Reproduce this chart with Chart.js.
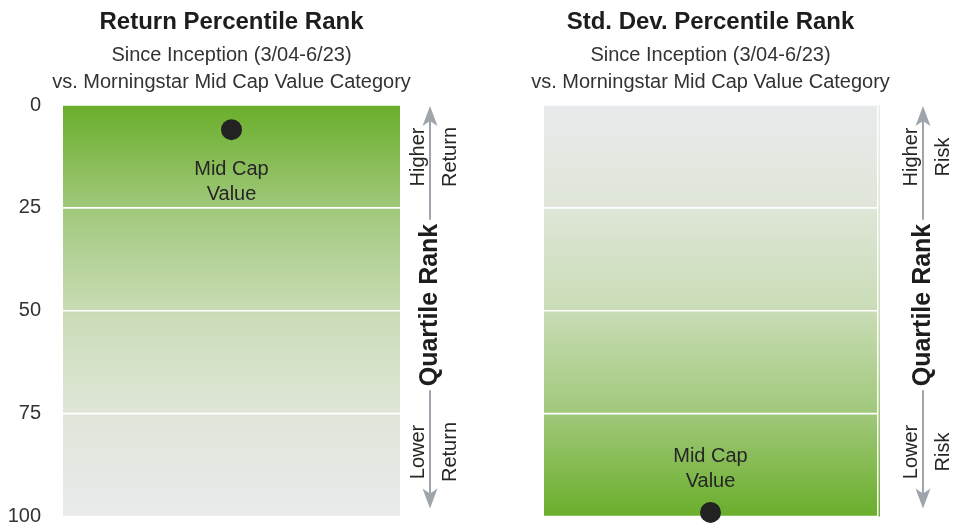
<!DOCTYPE html>
<html>
<head>
<meta charset="utf-8">
<script src="https://cdn.jsdelivr.net/npm/chart.js@4.4.1/dist/chart.umd.min.js"></script>
<style>
    html, body { margin: 0; padding: 0; background: #fff; }
    .panel { position: absolute; top: 0; height: 527px; }
    #leftPanel { left: 0; width: 480px; }
    #rightPanel { left: 480px; width: 475px; }
</style>
</head>
<body>
<div class="panel" id="leftPanel"><canvas id="returnChart"></canvas></div>
<div class="panel" id="rightPanel"><canvas id="stdDevChart"></canvas></div>
<script>
const categories = ['Mid Cap Value'];
const quartileBands = [[0, 25], [25, 50], [50, 75], [75, 100]];
const rankTicks = [0, 25, 50, 75, 100];
const returnRank = [6];
const stdDevRank = [99];
const pointLabel = ['Mid Cap', 'Value'];

const FONT = '"Liberation Sans", Arial, sans-serif';
Chart.defaults.font.family = FONT;

// green at the top fading to gray at the bottom
const greenToGray = [[0, '#6aae2b'], [0.25, '#a0c87a'], [0.5, '#c9dcb6'], [0.75, '#dfe6d8'], [1, '#e9eaec']];

const makeGradient = (chart, flip) => {
    const { ctx, chartArea } = chart;
    const g = ctx.createLinearGradient(0, chartArea.top, 0, chartArea.bottom);
    greenToGray.forEach(([p, col]) => g.addColorStop(flip ? 1 - p : p, col));
    return g;
};

const drawHead = (c, x, y, dir) => {
    c.beginPath();
    c.moveTo(x, y);
    c.lineTo(x - 7.5, y + dir * 20);
    c.lineTo(x, y + dir * 15);
    c.lineTo(x + 7.5, y + dir * 20);
    c.closePath();
    c.fill();
};

const rotatedText = (c, str, x, y, font, color) => {
    c.save();
    c.translate(x, y);
    c.rotate(-Math.PI / 2);
    c.font = font;
    c.fillStyle = color;
    c.textAlign = 'center';
    c.textBaseline = 'middle';
    c.fillText(str, 0, 0);
    c.restore();
};

const panelPlugin = {
    id: 'panel',
    afterDatasetsDraw(chart) {
        const opts = chart.options.plugins.panel;
        const area = chart.chartArea;
        const c = chart.ctx;
        const cx = (area.left + area.right) / 2;
        const regular = '20px ' + FONT;

        c.save();
        c.textAlign = 'center';
        c.textBaseline = 'middle';
        c.fillStyle = '#1d1d1d';
        c.font = 'bold 24px ' + FONT;
        c.fillText(opts.title, cx, 22);
        c.fillStyle = '#333';
        c.font = regular;
        c.fillText('Since Inception (3/04-6/23)', cx, 55);
        c.fillText('vs. Morningstar Mid Cap Value Category', cx, 82);

        // label next to the dot
        const pt = chart.getDatasetMeta(quartileBands.length).data[0];
        c.fillStyle = '#262626';
        pointLabel.forEach((line, i) => {
            c.fillText(line, pt.x, pt.y + opts.labelOffset + i * 25);
        });

        if (opts.edgeLine) {
            c.fillStyle = makeGradient(chart, opts.flip);
            c.fillRect(area.right + 1.5, area.top, 1.5, area.bottom - area.top);
        }

        // arrow with quartile rank text
        const ax = area.right + opts.arrowX;
        const topTip = area.top + 1;
        const botTip = area.bottom - 8;
        const midY = area.top + 200;
        c.font = 'bold 25px ' + FONT;
        const half = c.measureText('Quartile Rank').width / 2 + 4;
        c.strokeStyle = '#9fa5ac';
        c.fillStyle = '#9fa5ac';
        c.lineWidth = 2;
        c.beginPath();
        c.moveTo(ax, topTip + 12);
        c.lineTo(ax, midY - half);
        c.moveTo(ax, midY + half);
        c.lineTo(ax, botTip - 12);
        c.stroke();
        drawHead(c, ax, topTip, 1);
        drawHead(c, ax, botTip, -1);

        rotatedText(c, 'Quartile Rank', ax, midY, 'bold 25px ' + FONT, '#1d1d1d');
        rotatedText(c, 'Higher', ax - 12, area.top + 52, regular, '#262626');
        rotatedText(c, opts.word, ax + 20, area.top + 52, regular, '#262626');
        rotatedText(c, 'Lower', ax - 12, area.top + 347, regular, '#262626');
        rotatedText(c, opts.word, ax + 20, area.top + 347, regular, '#262626');
        c.restore();
    },
};

const renderRankChart = (canvasId, ranks, panel) => {
    const canvas = document.getElementById(canvasId);

    const bandSets = quartileBands.map((band) => ({
        type: 'bar',
        data: [band],
        backgroundColor: (ctx) => (ctx.chart.chartArea ? makeGradient(ctx.chart, panel.flip) : '#ddd'),
        borderColor: '#fff',
        borderWidth: { top: 1.2, bottom: 1.2, left: 0, right: 0 },
        borderSkipped: false,
        categoryPercentage: 1,
        barPercentage: 1,
        order: 2,
    }));

    new Chart(canvas, {
        type: 'bar',
        data: {
            labels: categories,
            datasets: [
                ...bandSets,
                {
                    type: 'line',
                    data: ranks,
                    showLine: false,
                    pointRadius: 10.5,
                    pointHoverRadius: 10.5,
                    pointBackgroundColor: '#222',
                    pointBorderWidth: 0,
                    clip: false,
                    order: 0,
                },
            ],
        },
        options: {
            responsive: true,
            maintainAspectRatio: false,
            animation: false,
            layout: {
                padding: { top: 105, right: panel.padRight, bottom: 10, left: 0 },
            },
            plugins: {
                legend: { display: false },
                tooltip: { enabled: false },
                panel,
            },
            scales: {
                x: {
                    display: false,
                    stacked: true,
                },
                y: {
                    min: 0,
                    max: 100,
                    reverse: true,
                    grid: { display: false, drawTicks: false },
                    border: { display: false },
                    afterBuildTicks: (scale) => {
                        scale.ticks = rankTicks.map((v) => ({ value: v }));
                    },
                    afterFit: (scale) => {
                        scale.width = panel.axisWidth;
                        scale.paddingTop = 0;
                        scale.paddingBottom = 0;
                    },
                    ticks: {
                        display: panel.showTicks,
                        padding: 22,
                        color: '#333',
                        font: { size: 20 },
                    },
                },
            },
        },
        plugins: [panelPlugin],
    });
};

renderRankChart('returnChart', returnRank, {
    title: 'Return Percentile Rank',
    word: 'Return',
    flip: false,
    labelOffset: 40,
    arrowX: 30,
    padRight: 80,
    axisWidth: 63,
    showTicks: true,
    edgeLine: false,
});

renderRankChart('stdDevChart', stdDevRank, {
    title: 'Std. Dev. Percentile Rank',
    word: 'Risk',
    flip: true,
    labelOffset: -56,
    arrowX: 46,
    padRight: 78,
    axisWidth: 64,
    showTicks: false,
    edgeLine: true,
});
</script>
</body>
</html>
